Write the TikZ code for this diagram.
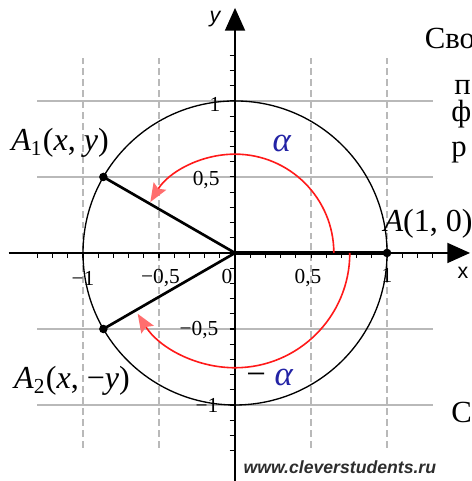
\documentclass[tikz,border=0pt]{standalone}
\usepackage{fontspec}
\setmainfont{Liberation Serif}
\setsansfont{Liberation Sans}
\usepackage{xcolor}
\usetikzlibrary{arrows.meta}
\definecolor{gridgray}{RGB}{185,185,185}
\definecolor{arcred}{RGB}{255,25,25}
\definecolor{tipred}{RGB}{255,110,110}
\definecolor{alphablue}{RGB}{35,35,165}
\definecolor{markgray}{RGB}{45,45,45}
\tikzset{
  hgrid/.style={gridgray, line width=0.55pt},
  vgrid/.style={gridgray, line width=0.55pt, dash pattern=on 2.6pt off 1.5pt},
  axis/.style={line width=0.6pt, -{Triangle[length=8.5pt, width=7.5pt]}},
  tickmark/.style={line width=0.4pt},
  rayline/.style={line width=1pt},
  turn/.style={arcred, line width=0.6pt, -{Stealth[length=7pt, width=5.5pt, inset=1.2pt, color=tipred]}},
  num/.style={font=\fontsize{8}{8}\selectfont, inner sep=0pt},
  ptlbl/.style={font=\fontsize{12}{12}\selectfont, inner sep=0pt},
  anglbl/.style={font=\fontsize{13}{13}\selectfont, inner sep=0pt},
  axlbl/.style={font=\fontsize{8}{8}\selectfont\sffamily, inner sep=0pt},
  dot/.style={circle, fill, inner sep=0pt, minimum size=3.2pt},
  pagetxt/.style={font=\fontsize{11.5}{11.5}\selectfont, anchor=base west, inner sep=0pt}
}

\begin{document}
\begin{tikzpicture}[x=2cm, y=2cm]
  \useasboundingbox (-1.546,-1.5) rectangle (1.553,1.664);
  % grid
  \foreach \g in {-1,-0.5,0.5,1} {
    \draw[hgrid] (-1.3,\g) -- (1.3,\g);
    \draw[vgrid] (\g,-1.28) -- (\g,1.28);
  }
  % unit circle
  \draw[line width=0.5pt] (0,0) circle[radius=1];
  % axes
  \coordinate (xl) at (-1.49,0);
  \coordinate (xr) at (1.546,0);
  \coordinate (yb) at (0,-1.52);
  \coordinate (yt) at (0,1.612);
  \draw[axis] (xl) -- (xr);
  \draw[axis] (yb) -- (yt);
  \foreach \t in {-13,...,13} {
    \draw[tickmark] (\t/10,0) -- (\t/10,-0.035);
    \draw[tickmark] (-0.035,\t/10) -- (0,\t/10);
  }
  \node[axlbl, font=\fontsize{8}{8}\selectfont\sffamily\itshape] (ylbl) at (-0.132,1.54) {y};
  \node[axlbl] (xlbl) at (1.5,-0.13) {x};
  % tick labels
  \node[num] (y1)  at (-0.132,0.974) {1};
  \node[num] (y05) at (-0.19,0.48) {0,5};
  \node[num] (ym05) at (-0.237,-0.507) {−0,5};
  \node[num] (ym1) at (-0.184,-1.0) {−1};
  \node[num] (xm1) at (-1.0,-0.17) {−1};
  \node[num] (xm05) at (-0.49,-0.165) {−0,5};
  \node[num] (x0)  at (-0.053,-0.155) {0};
  \node[num] (x05) at (0.48,-0.165) {0,5};
  \node[num] (x1)  at (1.0,-0.15) {1};
  % points and rays
  \coordinate (O) at (0,0);
  \coordinate (A) at (1,0);
  \coordinate (A1) at (150:1);
  \coordinate (A2) at (-150:1);
  \draw[rayline] (O) -- (A1);
  \draw[rayline] (O) -- (A2);
  \draw[line width=1.3pt] (O) -- (A);
  \node[dot] (pA) at (A) {};
  \node[dot] (pA1) at (A1) {};
  \node[dot] (pA2) at (A2) {};
  % rotation arcs
  \draw[turn] (0:0.65) arc[start angle=0, end angle=149, radius=0.65];
  \draw[turn] (0:0.755) arc[start angle=0, end angle=-148, radius=0.755];
  \node[anglbl, text=alphablue] (alpha) at (0.309,0.717) {\textit{α}};
  \node[anglbl] (malpha) at (0.23,-0.822) {− \textcolor{alphablue}{\textit{α}}};
  % point labels
  \node[ptlbl] (lA1) at (-1.151,0.724) {\textit{A}\textsubscript{1}(\textit{x}, \textit{y})};
  \node[ptlbl] (lA2) at (-1.072,-0.842) {\textit{A}\textsubscript{2}(\textit{x}, −\textit{y})};
  \node[ptlbl] (lA) at (1.27,0.191) {\textit{A}(1, 0)};
  % page text around the figure
  \node[pagetxt] (t1) at (1.245,1.342) {Сво};
  \node[pagetxt] (t2) at (1.44,1.04) {п};
  \node[pagetxt] (t3) at (1.42,0.862) {ф};
  \node[pagetxt] (t4) at (1.42,0.632) {р};
  \node[pagetxt] (t5) at (1.42,-1.112) {С};
  \node[font=\fontsize{6.6}{6.6}\selectfont\sffamily\bfseries\itshape, text=markgray, inner sep=0pt] (mark) at (0.69,-1.408) {www.cleverstudents.ru};
\end{tikzpicture}
\end{document}
